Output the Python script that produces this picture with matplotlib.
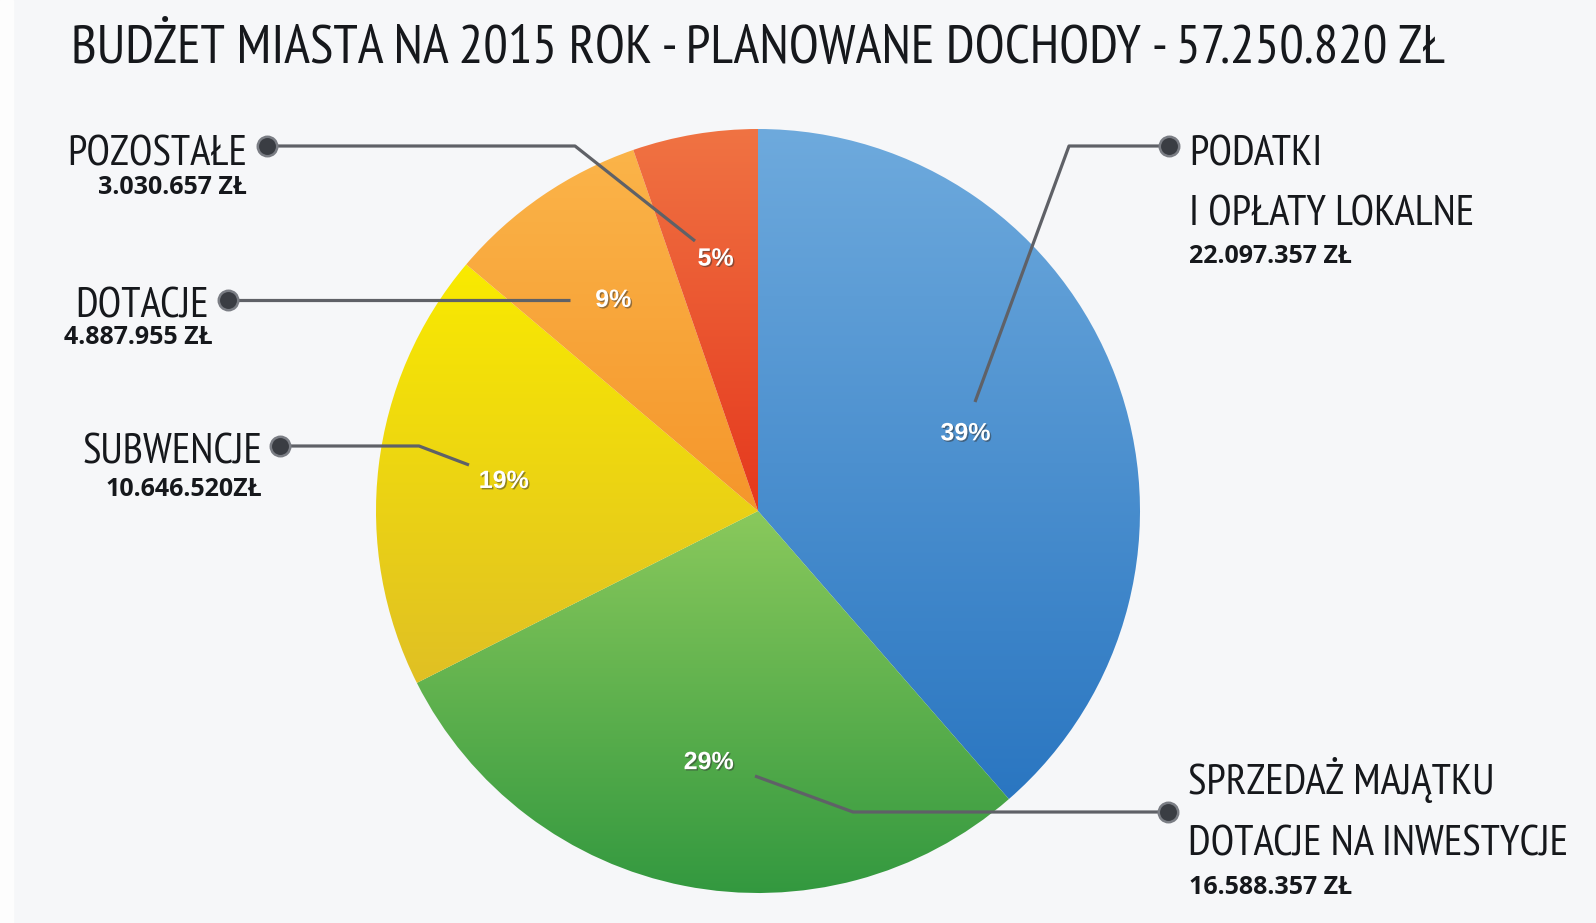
import matplotlib
matplotlib.use('Agg')
import matplotlib.pyplot as plt
import matplotlib.patheffects as pe
import numpy as np
from matplotlib.colors import LinearSegmentedColormap

# ---------------- data ----------------
categories = ['PODATKI\nI OPŁATY LOKALNE', 'SPRZEDAŻ MAJĄTKU\nDOTACJE NA INWESTYCJE',
              'SUBWENCJE', 'DOTACJE', 'POZOSTAŁE']
values = [22097357, 16588357, 10646520, 4887955, 3030657]
value_labels = ['22.097.357 ZŁ', '16.588.357 ZŁ', '10.646.520ZŁ', '4.887.955 ZŁ', '3.030.657 ZŁ']
total_label = '57.250.820 ZŁ'
title = 'BUDŻET MIASTA NA 2015 ROK - PLANOWANE DOCHODY - ' + total_label
top_colors = ['#6eaadd', '#8ac95c', '#f9ea00', '#fbb449', '#f07343']
bottom_colors = ['#2a76c1', '#32983f', '#e0c024', '#f5962b', '#e5381d']

W, H = 1596, 923
COND = ['PT Sans Narrow', 'Roboto Condensed', 'DejaVu Sans']
BOLD = ['Open Sans', 'DejaVu Sans']
PCT = ['Liberation Sans', 'DejaVu Sans']

def Y(p):
    return H - p

fig = plt.figure(figsize=(W / 100, H / 100), dpi=100)
fig.patch.set_facecolor('#f6f7f9')
ax = fig.add_axes([0, 0, 1, 1])
ax.add_patch(plt.Rectangle((0, 0), 13, H, color='#fdfdfd', zorder=0))

cx, cy, R = 758, Y(511), 382
wedges, texts, autotexts = ax.pie(values, startangle=90, counterclock=False,
                                  center=(cx, cy), radius=R,
                                  autopct=lambda p: f'{p:.0f}%', pctdistance=0.67)
ax.set_xlim(0, W)
ax.set_ylim(0, H)
ax.set_aspect('auto')
ax.axis('off')

for w, ct, cb in zip(wedges, top_colors, bottom_colors):
    w.set_facecolor('none')
    w.set_edgecolor('none')
    verts = w.get_patch_transform().transform(w.get_path().vertices)
    x0, x1 = verts[:, 0].min(), verts[:, 0].max()
    y0, y1 = verts[:, 1].min(), verts[:, 1].max()
    cmap = LinearSegmentedColormap.from_list('g', [ct, cb])
    grad = np.linspace(0, 1, 256).reshape(-1, 1)
    im = ax.imshow(grad, cmap=cmap, extent=(x0, x1, y0, y1), origin='upper',
                   aspect='auto', interpolation='bilinear', zorder=1)
    im.set_clip_path(w)

# move the big slice's percentage closer to the centre
t1, t2 = wedges[0].theta1, wedges[0].theta2
a = np.deg2rad((t1 + t2) / 2)
autotexts[0].set_position((cx + 0.58 * R * np.cos(a), cy + 0.58 * R * np.sin(a)))
for t in autotexts:
    t.set_color('white')
    t.set_fontsize(18)
    t.set_fontweight('bold')
    t.set_family(PCT)
    t.set_zorder(5)
    t.set_path_effects([pe.withSimplePatchShadow(offset=(1, -1), shadow_rgbFace='#333333', alpha=0.5)])

# title
ax.text(71, Y(63), title, family=COND, fontweight='normal', fontsize=39.3, color='#16181c',
        ha='left', va='baseline')

LC = '#5f6167'
def leader(pts):
    xs = [p[0] for p in pts]
    ys = [Y(p[1]) for p in pts]
    ax.plot(xs, ys, color=LC, lw=2.3, solid_capstyle='butt', zorder=3)
    ax.plot(xs[0], ys[0], marker='o', ms=14, mfc='#3a3d43', mec='#7a7d84', mew=1.8, zorder=4)

# leader lines (from dot to slice)
leader([(267, 146), (575, 146), (695, 241)])          # pozostale
leader([(228, 300), (570, 300)])                        # dotacje
leader([(280, 446), (419, 446), (469, 465)])            # subwencje
leader([(1169, 146), (1069, 146), (975, 402)])          # podatki
leader([(1168, 812), (853, 812), (755, 776)])           # sprzedaz

NAME_FS = 31
VAL_FS = 18
TC = '#16181c'
kw_name = dict(family=COND, fontweight='normal', fontsize=NAME_FS, color=TC, va='baseline')
kw_val = dict(family=BOLD, fontweight='bold', fontsize=VAL_FS, color=TC, va='baseline')
# left labels (right-aligned)
ax.text(247, Y(165), categories[4], ha='right', **kw_name)
ax.text(247, Y(194), value_labels[4], ha='right', **kw_val)
ax.text(209, Y(318), categories[3], ha='right', **kw_name)
ax.text(213, Y(344), value_labels[3], ha='right', **kw_val)
ax.text(262, Y(463), categories[2], ha='right', **kw_name)
ax.text(262, Y(496), value_labels[2], ha='right', **kw_val)

# right labels (left-aligned)
l1, l2 = categories[0].split('\n')
ax.text(1189, Y(165), l1, ha='left', **kw_name)
ax.text(1189, Y(226), l2, ha='left', **kw_name)
ax.text(1189, Y(263), value_labels[0], ha='left', **kw_val)
l1, l2 = categories[1].split('\n')
ax.text(1188, Y(794), l1, ha='left', **kw_name)
ax.text(1188, Y(856), l2, ha='left', **kw_name)
ax.text(1189, Y(894), value_labels[1], ha='left', **kw_val)

fig.savefig('out.png', dpi=100, facecolor=fig.get_facecolor())
